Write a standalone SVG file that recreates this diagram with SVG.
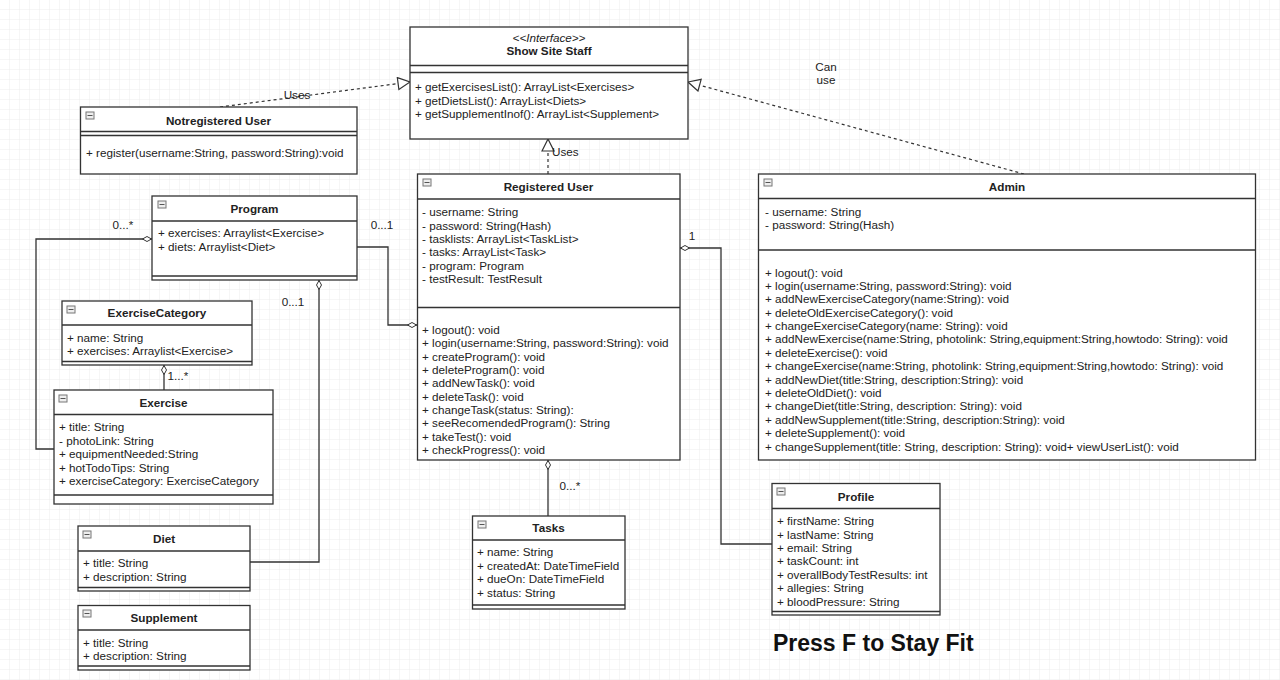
<svg xmlns="http://www.w3.org/2000/svg" width="1280" height="680" viewBox="0 0 1280 680">
<style>
.box{fill:#fff;stroke:#333;stroke-width:1.3}
.ln{stroke:#333;stroke-width:1.3;fill:none}
.t{font-family:"Liberation Sans",Arial,sans-serif;font-size:11.7px;fill:#222}
.b{font-weight:bold;text-anchor:middle}
.i{font-style:italic;text-anchor:middle}
.con{stroke:#333;stroke-width:1.3;fill:none}
.dash{stroke:#333;stroke-width:1.2;fill:none;stroke-dasharray:3,3}
.ico{fill:#eee;stroke:#777;stroke-width:1}
</style>
<defs>
<pattern id="grid" width="10" height="10" patternUnits="userSpaceOnUse">
<path d="M10,0 V10 H0" fill="none" stroke="#ececec" stroke-width="1"/>
</pattern>
<marker id="tri" viewBox="0 0 14 14" refX="13" refY="7" markerWidth="14" markerHeight="14" orient="auto" markerUnits="userSpaceOnUse">
<path d="M1,1 L13,7 L1,13 Z" fill="#fff" stroke="#333" stroke-width="1.2"/>
</marker>
<marker id="dia" viewBox="0 0 10 6" refX="0" refY="3" markerWidth="10" markerHeight="6" orient="auto" markerUnits="userSpaceOnUse">
<path d="M0.5,3 L5,0.5 L9.5,3 L5,5.5 Z" fill="#fff" stroke="#333" stroke-width="1"/>
</marker>
<g id="icon"><rect class="ico" x="0" y="0" width="8" height="7"/><path d="M1.5,3.5 H6.5" stroke="#555" stroke-width="1"/></g>
</defs>
<rect width="1280" height="680" fill="#fff"/>
<rect width="1280" height="680" fill="url(#grid)"/>

<g id="connectors">
<path class="con" d="M152,239 H36 V449 H54" marker-start="url(#dia)"/>
<path class="con" d="M417,325 H388 V247 H357" marker-start="url(#dia)"/>
<path class="con" d="M319,280 V562 H250" marker-start="url(#dia)"/>
<path class="con" d="M164,365 V390" marker-start="url(#dia)"/>
<path class="con" d="M680,248 H721 V544 H772" marker-start="url(#dia)"/>
<path class="con" d="M548,460 V516" marker-start="url(#dia)"/>
<path class="dash" d="M220,107 L410,82" marker-end="url(#tri)"/>
<path class="dash" d="M548,174 V139" marker-end="url(#tri)"/>
<path class="dash" d="M1024,174 L688,82" marker-end="url(#tri)"/>
<text class="t" x="297" y="99" text-anchor="middle">Uses</text>
<text class="t" x="552" y="156">Uses</text>
<text class="t" x="826" y="71" text-anchor="middle">Can</text>
<text class="t" x="826" y="84" text-anchor="middle">use</text>
<text class="t" x="123" y="229" text-anchor="middle">0...*</text>
<text class="t" x="382" y="229" text-anchor="middle">0...1</text>
<text class="t" x="293" y="306" text-anchor="middle">0...1</text>
<text class="t" x="178" y="380" text-anchor="middle">1...*</text>
<text class="t" x="692" y="240" text-anchor="middle">1</text>
<text class="t" x="570" y="490" text-anchor="middle">0...*</text>
</g>

<g id="show-site-staff">
<rect class="box" x="410" y="27" width="278" height="112"/>
<path class="ln" d="M410,65.5 H688 M410,72.5 H688"/>
<text class="t i" x="549" y="42">&lt;&lt;Interface&gt;&gt;</text>
<text class="t b" x="549" y="55">Show Site Staff</text>
<text class="t" x="415" y="90.5">+ getExercisesList(): ArrayList&lt;Exercises&gt;</text>
<text class="t" x="415" y="104.5">+ getDietsList(): ArrayList&lt;Diets&gt;</text>
<text class="t" x="415" y="118">+ getSupplementInof(): ArrayList&lt;Supplement&gt;</text>
</g>

<g id="notregistered-user">
<rect class="box" x="80.5" y="107" width="276.5" height="67"/>
<path class="ln" d="M80.5,131.5 H357 M80.5,135.5 H357"/>
<use href="#icon" x="86" y="112"/>
<text class="t b" x="218.5" y="124.5">Notregistered User</text>
<text class="t" x="86" y="157">+ register(username:String, password:String):void</text>
</g>

<g id="program">
<rect class="box" x="152" y="196" width="205" height="84"/>
<path class="ln" d="M152,221 H357 M152,276 H357"/>
<use href="#icon" x="158" y="201"/>
<text class="t b" x="254.5" y="213">Program</text>
<text class="t" x="158" y="237">+ exercises: Arraylist&lt;Exercise&gt;</text>
<text class="t" x="158" y="250.5">+ diets: Arraylist&lt;Diet&gt;</text>
</g>

<g id="exercise-category">
<rect class="box" x="62" y="301" width="190" height="64"/>
<path class="ln" d="M62,325 H252 M62,361.5 H252"/>
<use href="#icon" x="67" y="306"/>
<text class="t b" x="157" y="317">ExerciseCategory</text>
<text class="t" x="67" y="341.5">+ name: String</text>
<text class="t" x="67" y="355">+ exercises: Arraylist&lt;Exercise&gt;</text>
</g>

<g id="exercise">
<rect class="box" x="54" y="390" width="219" height="114"/>
<path class="ln" d="M54,414.5 H273 M54,495 H273"/>
<use href="#icon" x="59" y="395"/>
<text class="t b" x="163.5" y="407">Exercise</text>
<text class="t" x="59" y="431">+ title: String</text>
<text class="t" x="59" y="444.5">- photoLink: String</text>
<text class="t" x="59" y="458">+ equipmentNeeded:String</text>
<text class="t" x="59" y="471.5">+ hotTodoTips: String</text>
<text class="t" x="59" y="485">+ exerciseCategory: ExerciseCategory</text>
</g>

<g id="diet">
<rect class="box" x="78" y="526" width="172" height="65"/>
<path class="ln" d="M78,551 H250 M78,587.5 H250"/>
<use href="#icon" x="83" y="531"/>
<text class="t b" x="164" y="543">Diet</text>
<text class="t" x="83" y="567">+ title: String</text>
<text class="t" x="83" y="580.5">+ description: String</text>
</g>

<g id="supplement">
<rect class="box" x="78" y="605.5" width="172" height="64.5"/>
<path class="ln" d="M78,630 H250 M78,666 H250"/>
<use href="#icon" x="83" y="610"/>
<text class="t b" x="164" y="622">Supplement</text>
<text class="t" x="83" y="646.5">+ title: String</text>
<text class="t" x="83" y="660">+ description: String</text>
</g>

<g id="registered-user">
<rect class="box" x="417.5" y="174" width="262.5" height="286"/>
<path class="ln" d="M417.5,199 H680 M417.5,307.5 H680"/>
<use href="#icon" x="423" y="179"/>
<text class="t b" x="548.5" y="190.5">Registered User</text>
<text class="t" x="422" y="216">- username: String</text>
<text class="t" x="422" y="229.5">- password: String(Hash)</text>
<text class="t" x="422" y="243">- tasklists: ArrayList&lt;TaskList&gt;</text>
<text class="t" x="422" y="256">- tasks: ArrayList&lt;Task&gt;</text>
<text class="t" x="422" y="269.5">- program: Program</text>
<text class="t" x="422" y="283">- testResult: TestResult</text>
<text class="t" x="422" y="334">+ logout(): void</text>
<text class="t" x="422" y="347.3">+ login(username:String, password:String): void</text>
<text class="t" x="422" y="360.7">+ createProgram(): void</text>
<text class="t" x="422" y="374">+ deleteProgram(): void</text>
<text class="t" x="422" y="387.3">+ addNewTask(): void</text>
<text class="t" x="422" y="400.7">+ deleteTask(): void</text>
<text class="t" x="422" y="414">+ changeTask(status: String):</text>
<text class="t" x="422" y="427.3">+ seeRecomendedProgram(): String</text>
<text class="t" x="422" y="440.7">+ takeTest(): void</text>
<text class="t" x="422" y="454">+ checkProgress(): void</text>
</g>

<g id="admin">
<rect class="box" x="758.5" y="174" width="497" height="286"/>
<path class="ln" d="M758.5,198.5 H1255.5 M758.5,250 H1255.5"/>
<use href="#icon" x="764" y="179"/>
<text class="t b" x="1007" y="190.5">Admin</text>
<text class="t" x="765" y="215.5">- username: String</text>
<text class="t" x="765" y="229">- password: String(Hash)</text>
<text class="t" x="765" y="276.5">+ logout(): void</text>
<text class="t" x="765" y="289.9">+ login(username:String, password:String): void</text>
<text class="t" x="765" y="303.3">+ addNewExerciseCategory(name:String): void</text>
<text class="t" x="765" y="316.6">+ deleteOldExerciseCategory(): void</text>
<text class="t" x="765" y="330">+ changeExerciseCategory(name: String): void</text>
<text class="t" x="765" y="343.4">+ addNewExercise(name:String, photolink: String,equipment:String,howtodo: String): void</text>
<text class="t" x="765" y="356.8">+ deleteExercise(): void</text>
<text class="t" x="765" y="370.2">+ changeExercise(name:String, photolink: String,equipment:String,howtodo: String): void</text>
<text class="t" x="765" y="383.5">+ addNewDiet(title:String, description:String): void</text>
<text class="t" x="765" y="396.9">+ deleteOldDiet(): void</text>
<text class="t" x="765" y="410.3">+ changeDiet(title:String, description: String): void</text>
<text class="t" x="765" y="423.7">+ addNewSupplement(title:String, description:String): void</text>
<text class="t" x="765" y="437">+ deleteSupplement(): void</text>
<text class="t" x="765" y="450.5">+ changeSupplement(title: String, description: String): void+ viewUserList(): void</text>
</g>

<g id="tasks">
<rect class="box" x="472.5" y="516" width="152.5" height="93"/>
<path class="ln" d="M472.5,540 H625 M472.5,605 H625"/>
<use href="#icon" x="478" y="521"/>
<text class="t b" x="548.5" y="532">Tasks</text>
<text class="t" x="477" y="556">+ name: String</text>
<text class="t" x="477" y="569.5">+ createdAt: DateTimeField</text>
<text class="t" x="477" y="583">+ dueOn: DateTimeField</text>
<text class="t" x="477" y="596.5">+ status: String</text>
</g>

<g id="profile">
<rect class="box" x="772" y="483.5" width="168" height="131.5"/>
<path class="ln" d="M772,508.5 H940 M772,611.5 H940"/>
<use href="#icon" x="777" y="488"/>
<text class="t b" x="856" y="500.5">Profile</text>
<text class="t" x="777" y="525">+ firstName: String</text>
<text class="t" x="777" y="538.5">+ lastName: String</text>
<text class="t" x="777" y="552">+ email: String</text>
<text class="t" x="777" y="565.3">+ taskCount: int</text>
<text class="t" x="777" y="578.7">+ overallBodyTestResults: int</text>
<text class="t" x="777" y="592">+ allegies: String</text>
<text class="t" x="777" y="605.5">+ bloodPressure: String</text>
</g>

<text x="773" y="651" font-family="'Liberation Sans',Arial,sans-serif" font-size="23" font-weight="bold" fill="#111">Press F to Stay Fit</text>
</svg>
